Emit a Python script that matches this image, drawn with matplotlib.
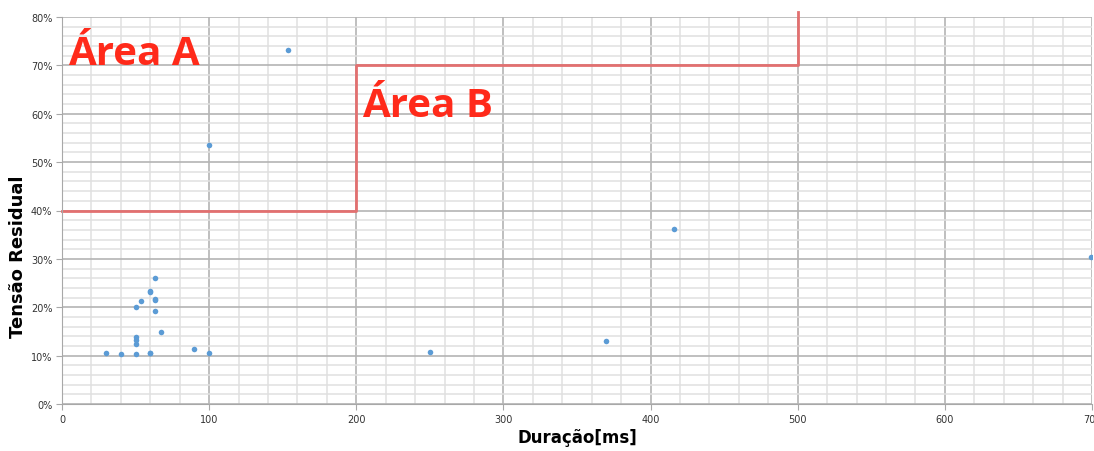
import numpy as np
import matplotlib.pyplot as plt
from matplotlib.ticker import MultipleLocator, PercentFormatter

# duração [ms] e tensão residual [%]
duracao = [153.6, 100, 416, 699, 370, 250, 90, 100, 30, 40, 50, 60, 60,
           50, 50, 50, 50, 54, 60, 60, 63.5, 63, 63, 63, 67]
tensao = [73.1, 53.5, 36.2, 30.4, 13.0, 10.7, 11.3, 10.6, 10.6, 10.3, 10.3, 10.5, 10.6,
          12.5, 13.3, 13.9, 20.1, 21.3, 23.2, 23.3, 26.0, 21.7, 21.4, 19.2, 14.8]

# limites das áreas (degraus)
limite_x = [0, 200, 200, 500, 500]
limite_y = [40, 40, 70, 70, 81]

fig = plt.figure(figsize=(10.94, 4.52), dpi=100)
ax = fig.add_axes([62/1094, 1-405/452, 1030/1094, 387/452])

ax.set_xlim(0, 700)
ax.set_ylim(0, 80)
ax.xaxis.set_major_locator(MultipleLocator(100))
ax.xaxis.set_minor_locator(MultipleLocator(20))
ax.yaxis.set_major_locator(MultipleLocator(10))
ax.yaxis.set_minor_locator(MultipleLocator(2))
ax.yaxis.set_major_formatter(PercentFormatter(decimals=0))

ax.grid(which='minor', color='#e0e0e0', linewidth=1.1)
ax.grid(which='major', color='#b4b4b4', linewidth=1.2)
ax.set_axisbelow(True)

for s in ax.spines.values():
    s.set_visible(False)
ax.spines['left'].set_visible(True)
ax.spines['bottom'].set_visible(True)
ax.spines['left'].set_color('#a8a8a8')
ax.spines['bottom'].set_color('#a8a8a8')
ax.tick_params(which='major', length=4, color='#a8a8a8', labelsize=7, labelcolor='#333333', pad=3)
ax.tick_params(which='minor', length=0)

ax.plot(duracao, tensao, 'o', color='#5b9bd5', markersize=4, markeredgewidth=0)

ax.plot(limite_x, limite_y, '-', color='#e27070', linewidth=2.0, clip_on=False)

ax.text(4, 70.3, 'Área A', color='#ff2a1a', fontsize=29, fontweight='bold',
        family='Open Sans', va='baseline', ha='left')
ax.text(204, 59.5, 'Área B', color='#ff2a1a', fontsize=29, fontweight='bold',
        family='Open Sans', va='baseline', ha='left')

fig.text(577/1094, 1-438/452, 'Duração[ms]', fontsize=12, fontweight='bold',
         ha='center', va='center')
fig.text(18/1094, 1-257/452, 'Tensão Residual', fontsize=13, fontweight='bold',
         ha='center', va='center', rotation=90)

fig.savefig('out.png', dpi=100)
